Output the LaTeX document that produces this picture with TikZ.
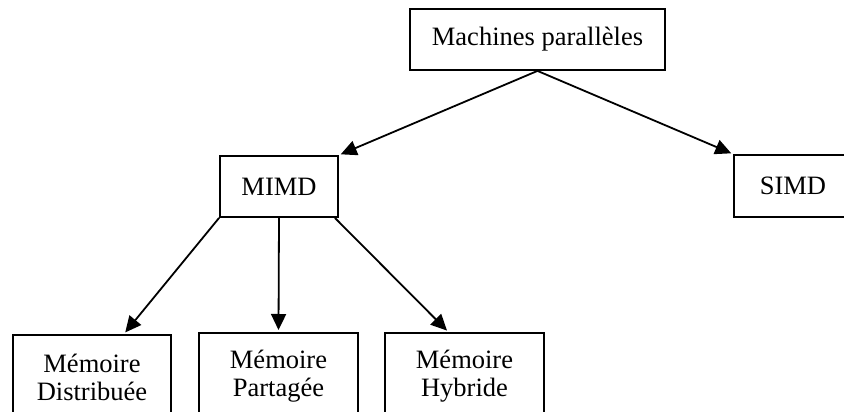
\documentclass[tikz,border=0pt]{standalone}
\usepackage{fontspec}
\setmainfont{Liberation Serif}
\usepackage{tikz}
\usetikzlibrary{arrows.meta,calc}

\begin{document}
\begin{tikzpicture}[x=1pt,y=-1pt,
    box/.style={draw,line width=1.8pt,inner sep=0pt,align=center,
        font=\fontsize{26.5}{28}\selectfont},
    fleche/.style={line width=1.8pt,shorten >=2pt,-{Triangle[length=16pt,width=15pt]}}]

            \useasboundingbox (0,0) rectangle (844,412);

            \node[box,minimum width=255pt,minimum height=61pt] (machines) at (537.5,39.5) {Machines parallèles};
            \node[box,minimum width=118pt,minimum height=61pt] (mimd) at (279,186.5) {MIMD};
            \node[box,minimum width=118pt,minimum height=62pt] (simd) at (793,186) {SIMD};

            \node[box,anchor=north,minimum width=158pt,minimum height=86pt] (distribuee) at (92,334) {Mémoire\\Distribuée};
            \node[box,anchor=north,minimum width=159pt,minimum height=86pt] (partagee) at (278.5,332) {Mémoire\\Partagée};
            \node[box,anchor=north,minimum width=159pt,minimum height=86pt] (hybride) at (464.5,332) {Mémoire\\Hybride};

            \draw[fleche] (machines.south) -- (mimd.north east);
            \draw[fleche] (machines.south) -- (simd.north west);

            \draw[fleche] (mimd.south west) -- ($(distribuee.north west)!0.7!(distribuee.north east)$);
            \draw[fleche] (mimd.south) -- (partagee.north);
            \draw[fleche] ([xshift=-4pt]mimd.south east) -- ($(hybride.north west)!0.4!(hybride.north east)$);

\end{tikzpicture}
\end{document}
